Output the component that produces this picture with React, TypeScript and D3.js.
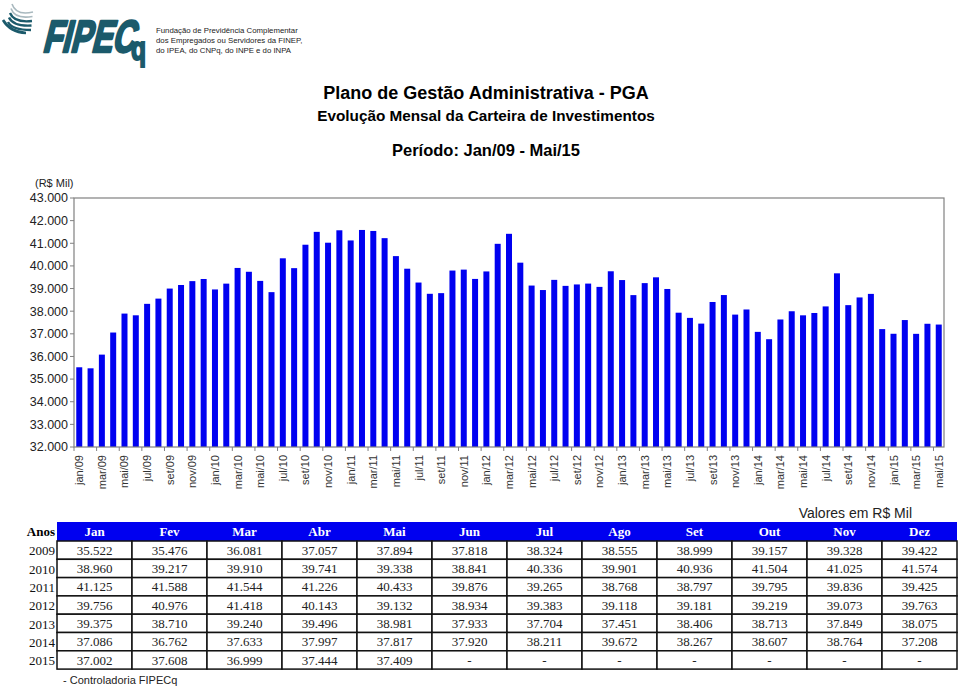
import React from 'react';
import * as d3 from 'd3';

// Monthly portfolio values (R$ Mil), one array per year
const years = ['2009', '2010', '2011', '2012', '2013', '2014', '2015'];
const v2009 = [35522, 35476, 36081, 37057, 37894, 37818, 38324, 38555, 38999, 39157, 39328, 39422];
const v2010 = [38960, 39217, 39910, 39741, 39338, 38841, 40336, 39901, 40936, 41504, 41025, 41574];
const v2011 = [41125, 41588, 41544, 41226, 40433, 39876, 39265, 38768, 38797, 39795, 39836, 39425];
const v2012 = [39756, 40976, 41418, 40143, 39132, 38934, 39383, 39118, 39181, 39219, 39073, 39763];
const v2013 = [39375, 38710, 39240, 39496, 38981, 37933, 37704, 37451, 38406, 38713, 37849, 38075];
const v2014 = [37086, 36762, 37633, 37997, 37817, 37920, 38211, 39672, 38267, 38607, 38764, 37208];
const v2015 = [37002, 37608, 36999, 37444, 37409];
const rows = [v2009, v2010, v2011, v2012, v2013, v2014, v2015];

const monthShort = ['jan', 'fev', 'mar', 'abr', 'mai', 'jun', 'jul', 'ago', 'set', 'out', 'nov', 'dez'];
const monthHead = ['Jan', 'Fev', 'Mar', 'Abr', 'Mai', 'Jun', 'Jul', 'Ago', 'Set', 'Out', 'Nov', 'Dez'];
const yTicks = [32000, 33000, 34000, 35000, 36000, 37000, 38000, 39000, 40000, 41000, 42000, 43000];

const ptBR = d3.formatLocale({ decimal: ',', thousands: '.', grouping: [3], currency: ['R$', ''] });
const fmt = ptBR.format(',.0f');

const series = rows.flatMap((vals, yi) =>
    vals.map((v, mi) => ({ key: `${monthShort[mi]}/${years[yi].slice(2)}`, m: mi, value: v }))
);

const BLUE = '#0000f0';
const TEAL = '#1b5a6b';
const SANS = 'Arial, "Liberation Sans", Helvetica, sans-serif';
const SERIF = '"Times New Roman", "Liberation Serif", serif';

const Logo = () => (
    <g>
        {/* swoosh */}
        {[0, 1, 2, 3, 4].map(i => (
            <path key={i}
                d={`M${12 - i},${4 + i * 4.5} Q${16 - i},${16 + i * 3.5} ${33 - i * 0.5},${12 + i * 4.5}`}
                fill="none" stroke={i < 2 ? '#a9b9bf' : TEAL} strokeWidth={i < 2 ? 1.6 : 2.4} />
        ))}
        <path d="M3,20 Q10,32 26,33" fill="none" stroke={TEAL} strokeWidth={2.6} />
        <text x={42} y={52} fontFamily={SANS} fontWeight="bold" fontSize={45}
            fill={TEAL} stroke={TEAL} strokeWidth={2.6} strokeLinejoin="round" transform="skewX(-14) translate(13,0)"
            textLength={92} lengthAdjust="spacingAndGlyphs">FIPEC</text>
        <text x={131} y={60} fontFamily={SANS} fontWeight="bold" fontSize={34}
            fill={TEAL} stroke={TEAL} strokeWidth={2} textLength={15} lengthAdjust="spacingAndGlyphs">q</text>
        <g fontFamily={SANS} fontSize={7.8} fill="#222">
            <text x={156} y={33}>Fundação de Previdência Complementar</text>
            <text x={156} y={43}>dos Empregados ou Servidores da FINEP,</text>
            <text x={156} y={53}>do IPEA, do CNPq, do INPE e do INPA</text>
        </g>
    </g>
);

const App = () => {
    const W = 960, H = 688;
    const plot = { left: 74, right: 944, top: 198, bottom: 447 };

    const x = d3.scaleBand<string>()
        .domain(series.map(d => d.key))
        .range([plot.left, plot.right])
        .paddingInner(0.47)
        .paddingOuter(0.2);
    const y = d3.scaleLinear().domain([32000, 43000]).range([plot.bottom, plot.top]);

    const step = x.step();
    const labelled = series.filter(d => d.m % 2 === 0);

    // table geometry
    const tLeft = 57, colW = 75, headTop = 522, headH = 19, rowH = 18.3;
    const col = d3.scaleBand<string>().domain(monthHead).range([tLeft, tLeft + colW * 12]);
    const row = d3.scaleBand<string>().domain(years).range([headTop + headH, headTop + headH + rowH * years.length]);

    return (
        <svg width={W} height={H} style={{ position: 'absolute', left: 0, top: 0, background: '#fff' }}>
            <Logo />

            <g fontFamily={SANS} fontWeight="bold" textAnchor="middle" fill="#000">
                <text x={486} y={99} fontSize={18}>Plano de Gestão Administrativa - PGA</text>
                <text x={486} y={121} fontSize={15.3}>Evolução Mensal da Carteira de Investimentos</text>
                <text x={486} y={156} fontSize={16.5}>Período: Jan/09 - Mai/15</text>
            </g>

            <text x={35} y={187} fontFamily={SANS} fontSize={11} fill="#222">(R$ Mil)</text>

            {/* y axis labels */}
            <g fontFamily={SANS} fontSize={12.5} fill="#222" textAnchor="end">
                {yTicks.map(t => (
                    <g key={t}>
                        <text x={68} y={y(t)} dy="0.35em">{fmt(t)}</text>
                        <line x1={plot.left - 4} x2={plot.left} y1={y(t)} y2={y(t)} stroke="#808080" />
                    </g>
                ))}
            </g>

            {/* bars */}
            {series.map(d => (
                <rect key={d.key} x={x(d.key)} width={x.bandwidth()} y={y(d.value)}
                    height={plot.bottom - y(d.value)} fill={BLUE} />
            ))}

            {/* frame */}
            <rect x={plot.left} y={plot.top} width={plot.right - plot.left} height={plot.bottom - plot.top}
                fill="none" stroke="#808080" strokeWidth={1.2} />

            {/* x ticks and labels */}
            {labelled.map((d, i) => {
                const cx = (x(d.key) as number) + x.bandwidth() / 2;
                const tx = plot.left + i * 2 * step;
                return (
                    <g key={d.key}>
                        <line x1={tx} x2={tx} y1={plot.bottom} y2={plot.bottom + 4} stroke="#808080" />
                        <text transform={`translate(${cx + 4},${plot.bottom + 8}) rotate(-90)`}
                            textAnchor="end" fontFamily={SANS} fontSize={11} fill="#333">{d.key}</text>
                    </g>
                );
            })}

            {/* table */}
            <text x={912} y={518} textAnchor="end" fontFamily={SANS} fontSize={14} fill="#222">Valores em R$ Mil</text>
            <rect x={tLeft} y={headTop} width={colW * 12} height={headH} fill={BLUE} />
            <text x={55} y={headTop + headH / 2} dy="0.35em" textAnchor="end" fontFamily={SERIF}
                fontWeight="bold" fontSize={13}>Anos</text>
            {monthHead.map(m => (
                <text key={m} x={(col(m) as number) + colW / 2} y={headTop + headH / 2} dy="0.35em"
                    textAnchor="middle" fontFamily={SERIF} fontWeight="bold" fontSize={13} fill="#fff">{m}</text>
            ))}
            {years.map((yr, yi) => {
                const ry = row(yr) as number;
                return (
                    <g key={yr} fontFamily={SERIF} fontSize={13}>
                        <text x={55} y={ry + rowH / 2} dy="0.4em" textAnchor="end" fill="#111">{yr}</text>
                        {monthHead.map((m, mi) => {
                            const v = rows[yi][mi];
                            return (
                                <g key={m}>
                                    <rect x={col(m)} y={ry} width={colW} height={rowH}
                                        fill="#fff" stroke="#111" strokeWidth={1.5} />
                                    <text x={(col(m) as number) + colW / 2} y={ry + rowH / 2} dy="0.35em"
                                        textAnchor="middle" fill="#222">{v === undefined ? '-' : fmt(v)}</text>
                                </g>
                            );
                        })}
                    </g>
                );
            })}
            <text x={63} y={684} fontFamily={SANS} fontSize={11} fill="#222">- Controladoria FIPECq</text>
        </svg>
    );
};

export default App;
